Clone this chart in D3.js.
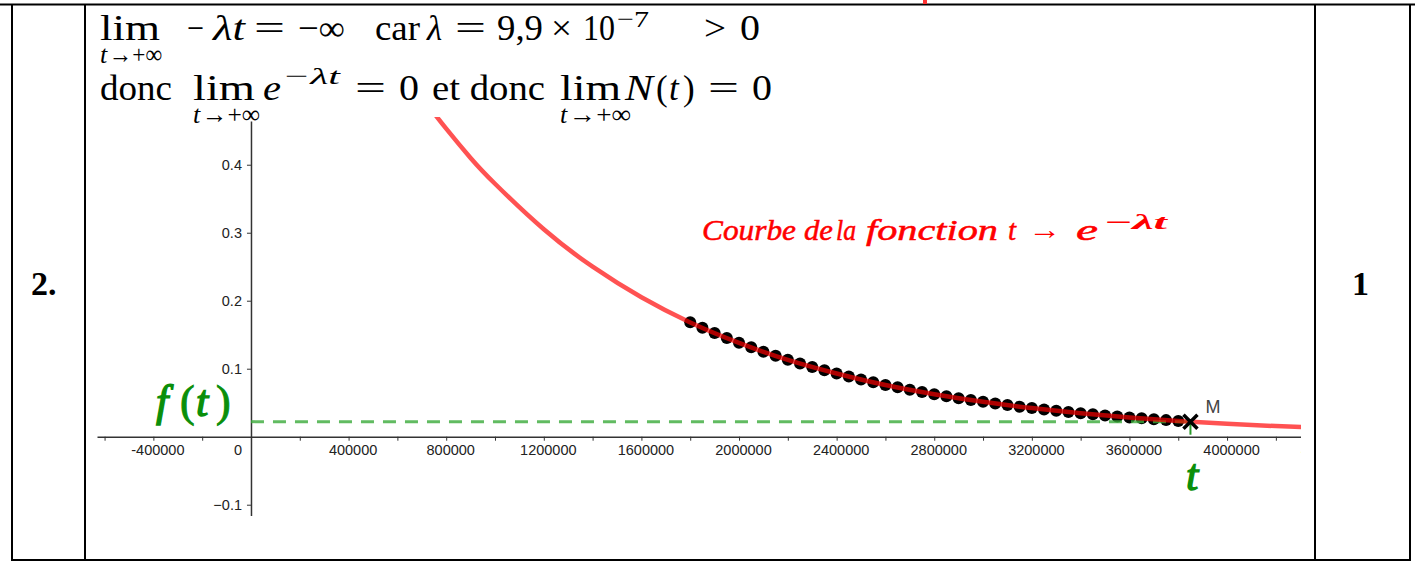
<!DOCTYPE html>
<html>
<head>
<meta charset="utf-8">
<script src="https://cdn.jsdelivr.net/npm/d3@7/dist/d3.min.js"></script>
<style>
  body { margin: 0; background: #fff; }
  svg { display: block; }
</style>
</head>
<body>
<script>
// axis ticks (minor every 200000, labels every 400000)
const xTickValues = [-600000, -400000, -200000, 200000, 400000, 600000, 800000, 1000000, 1200000,
  1400000, 1600000, 1800000, 2000000, 2200000, 2400000, 2600000, 2800000, 3000000, 3200000,
  3400000, 3600000, 3800000, 4000000, 4200000, 4400000];
const xLabelValues = [-400000, 400000, 800000, 1200000, 1600000, 2000000, 2400000, 2800000,
  3200000, 3600000, 4000000, 4400000];
const yTickValues = [-0.1, 0.1, 0.2, 0.3, 0.4];

// red curve, values
const curveT = [600000, 700000, 800000, 900000, 1000000, 1200000, 1400000, 1600000, 1800000,
  2000000, 2200000, 2400000, 2600000, 2800000, 3000000, 3200000, 3400000, 3600000, 3800000,
  4000000, 4200000, 4400000];
const curveY = [0.552, 0.500, 0.453, 0.410, 0.372, 0.305, 0.250, 0.205, 0.168,
  0.138, 0.113, 0.093, 0.076, 0.0625, 0.0513, 0.0421, 0.0345, 0.0283, 0.0232,
  0.0191, 0.0156, 0.0128];

// black points along the curve
const dotT = [1800000, 1850000, 1900000, 1950000, 2000000, 2050000, 2100000, 2150000, 2200000,
  2250000, 2300000, 2350000, 2400000, 2450000, 2500000, 2550000, 2600000, 2650000, 2700000,
  2750000, 2800000, 2850000, 2900000, 2950000, 3000000, 3050000, 3100000, 3150000, 3200000,
  3250000, 3300000, 3350000, 3400000, 3450000, 3500000, 3550000, 3600000, 3650000, 3700000,
  3750000, 3800000];
const dotY = [0.1683, 0.1602, 0.1524, 0.1451, 0.1381, 0.1314, 0.1251, 0.1190, 0.1133,
  0.1078, 0.1026, 0.0976, 0.0929, 0.0884, 0.0842, 0.0801, 0.0762, 0.0726, 0.0691,
  0.0657, 0.0625, 0.0595, 0.0567, 0.0539, 0.0513, 0.0488, 0.0465, 0.0442, 0.0421,
  0.0401, 0.0381, 0.0363, 0.0345, 0.0329, 0.0313, 0.0298, 0.0283, 0.0270, 0.0257,
  0.0244, 0.0232];

// point M
const mT = [3850000];
const mY = [0.0221];

const W = 1415, H = 562;
const SERIF = '"Liberation Serif", "DejaVu Serif", serif';
const SANS = '"Liberation Sans", Arial, sans-serif';

const svg = d3.select('body').append('svg')
  .attr('width', W)
  .attr('height', H);

// ---- table frame ----
const frame = svg.append('g').attr('stroke', '#000').attr('stroke-width', 2);
frame.append('line').attr('x1', 0).attr('x2', W).attr('y1', 4.5).attr('y2', 4.5);
frame.append('line').attr('x1', 12).attr('x2', 1410).attr('y1', 560).attr('y2', 560);
[12, 85, 1315, 1410].forEach(x => {
  frame.append('line').attr('x1', x).attr('x2', x).attr('y1', 4).attr('y2', 561);
});
// leftover bit of another picture peeking above the border
svg.append('rect').attr('x', 923).attr('y', 0).attr('width', 4).attr('height', 4).attr('fill', '#f33');

// ---- scales ----
const x = d3.scaleLinear().domain([-631000, 4303000]).range([97, 1301]);
const y = d3.scaleLinear().domain([-0.1166, 0.4643]).range([516, 121]);

svg.append('clipPath').attr('id', 'plot')
  .append('rect').attr('x', 97).attr('y', 117).attr('width', 1301 - 97).attr('height', 516 - 117);

const plot = svg.append('g').attr('clip-path', 'url(#plot)');

// ---- axes ----
const labelSet = new Set(xLabelValues);
const xAxis = plot.append('g')
  .attr('transform', `translate(0,${y(0)})`)
  .call(d3.axisBottom(x).tickValues(xTickValues).tickSize(4).tickSizeOuter(0)
    .tickFormat(d => labelSet.has(d) ? d3.format('d')(d).replace('−', '-') : ''));
xAxis.select('.domain').attr('stroke', '#333').attr('stroke-width', 1.5);
xAxis.selectAll('.tick line').attr('stroke', '#333');
xAxis.selectAll('.tick text')
  .attr('font-family', SANS).attr('font-size', 14.5).attr('fill', '#222')
  .attr('y', 8).attr('dx', 4).attr('dy', '0.71em');

// "0" sits left of the vertical axis
plot.append('text')
  .attr('x', x(0) - 9).attr('y', y(0) + 8).attr('dy', '0.71em')
  .attr('text-anchor', 'end')
  .attr('font-family', SANS).attr('font-size', 14.5).attr('fill', '#222')
  .text('0');

const yAxis = plot.append('g')
  .attr('transform', `translate(${x(0)},0)`)
  .call(d3.axisLeft(y).tickValues(yTickValues).tickSize(4).tickSizeOuter(0).tickPadding(5)
    .tickFormat(d3.format('.1f')));
yAxis.select('.domain').attr('stroke', '#333').attr('stroke-width', 1.5);
yAxis.selectAll('.tick line').attr('stroke', '#333');
yAxis.selectAll('.tick text')
  .attr('font-family', SANS).attr('font-size', 14.5).attr('fill', '#222');

// ---- points ----
const dots = dotT.map((t, i) => ({ t, v: dotY[i] }));
plot.append('g').selectAll('circle')
  .data(dots).enter().append('circle')
  .attr('cx', d => x(d.t))
  .attr('cy', d => y(d.v))
  .attr('r', 6)
  .attr('fill', '#000');

// ---- dashed level f(t) and the drop to the t axis ----
plot.append('line')
  .attr('x1', x(0)).attr('x2', x(mT[0]))
  .attr('y1', y(mY[0])).attr('y2', y(mY[0]))
  .attr('stroke', '#3aaa3a').attr('stroke-opacity', 0.8)
  .attr('stroke-width', 3).attr('stroke-dasharray', '13,9');
plot.append('line')
  .attr('x1', x(mT[0])).attr('x2', x(mT[0]))
  .attr('y1', y(mY[0])).attr('y2', y(0) - 2)
  .attr('stroke', '#2a9a2a').attr('stroke-width', 2);

// ---- red curve ----
const curve = curveT.map((t, i) => ({ t, v: curveY[i] }));
plot.append('path')
  .datum(curve)
  .attr('d', d3.line().x(d => x(d.t)).y(d => y(d.v)).curve(d3.curveNatural))
  .attr('fill', 'none')
  .attr('stroke', '#ff0000').attr('stroke-opacity', 0.68)
  .attr('stroke-width', 4.5);

// ---- point M ----
const mx = x(mT[0]), my = y(mY[0]);
plot.append('path')
  .attr('d', `M${mx - 7},${my - 7}L${mx + 7},${my + 7}M${mx - 7},${my + 7}L${mx + 7},${my - 7}`)
  .attr('stroke', '#000').attr('stroke-width', 3.5);
plot.append('text')
  .attr('x', mx + 15).attr('y', my - 9)
  .attr('font-family', SANS).attr('font-size', 18).attr('fill', '#444')
  .text('M');

// ---- labels in the chart ----
function put(g, px, py, str, opts = {}) {
  const t = g.append('text')
    .attr('x', px).attr('y', py)
    .attr('font-family', SERIF)
    .attr('font-size', opts.size || 35)
    .attr('fill', opts.fill || '#000')
    .attr('font-style', opts.italic ? 'italic' : 'normal')
    .attr('font-weight', opts.bold ? 'bold' : 'normal')
    .text(str);
  if (opts.len) t.attr('textLength', opts.len).attr('lengthAdjust', opts.adj || 'spacingAndGlyphs');
  if (opts.thick) t.attr('stroke', opts.fill).attr('stroke-width', opts.thick);
  return t;
}

const red = { fill: '#ff0000', italic: true, size: 29, thick: 0.5 };
const lbl = svg.append('g');
put(lbl, 702, 240, 'Courbe', { ...red, len: 94 });
put(lbl, 804, 240, 'de', { ...red, len: 29 });
put(lbl, 836, 240, 'la', { ...red, len: 20 });
put(lbl, 866, 240, 'fonction', { ...red, len: 132 });
put(lbl, 1008, 240, 't', red);
put(lbl, 1028, 239, '→', { fill: '#ff0000', size: 28, len: 33 });
put(lbl, 1076, 240, 'e', { ...red, len: 22 });
put(lbl, 1103, 229, '−λt', { fill: '#ff0000', italic: true, bold: true, size: 21, len: 64 });

const green = { fill: '#0a8f0a', italic: true, size: 44, thick: 1.4 };
put(lbl, 156, 416, 'f', green);
put(lbl, 180, 416, '(', { ...green, italic: false, thick: 1 });
put(lbl, 196, 416, 't', green);
put(lbl, 216, 416, ')', { ...green, italic: false, thick: 1 });
put(lbl, 1186, 490, 't', green);

// ---- row labels ----
put(svg, 31, 295, '2.', { bold: true, size: 34 });
put(svg, 1352, 295, '1', { bold: true, size: 34 });

// ---- math text above the chart ----
const m = svg.append('g');
const it = { italic: true };
const sub = { size: 26 };
// line 1
put(m, 100, 40, 'lim', { len: 60 });
put(m, 100, 63, 't', { ...sub, italic: true });
put(m, 109, 63, '→+∞', { ...sub, len: 53 });
put(m, 187, 40, '−', { len: 17 });
put(m, 213, 40, 'λt', { ...it, len: 32 });
put(m, 254, 40, '=', { len: 31 });
put(m, 298, 40, '−∞', { len: 47 });
put(m, 375, 40, 'car', { len: 45 });
put(m, 427, 40, 'λ', it);
put(m, 455, 40, '=', { len: 31 });
put(m, 497, 40, '9,9', { len: 46 });
put(m, 551, 40, '×', { len: 21 });
put(m, 583, 40, '10', { len: 32 });
put(m, 617, 27, '−7', { size: 24, len: 32 });
put(m, 704, 40, '>', { len: 22 });
put(m, 740, 40, '0', { len: 20 });
// line 2
put(m, 100, 100, 'donc', { len: 72 });
put(m, 193, 100, 'lim', { len: 62 });
put(m, 193, 123, 't', { ...sub, italic: true });
put(m, 202, 123, '→+∞', { ...sub, len: 58 });
put(m, 263, 100, 'e', { ...it, len: 18 });
put(m, 282, 84, '−λt', { size: 24, italic: true, len: 58 });
put(m, 355, 100, '=', { len: 31 });
put(m, 399, 100, '0', { len: 20 });
put(m, 432, 100, 'et donc', { len: 113 });
put(m, 560, 100, 'lim', { len: 61 });
put(m, 560, 123, 't', { ...sub, italic: true });
put(m, 569, 123, '→+∞', { ...sub, len: 62 });
put(m, 625, 100, 'N', { ...it, len: 28 });
put(m, 656, 100, '(');
put(m, 669, 100, 't', it);
put(m, 683, 100, ')');
put(m, 708, 100, '=', { len: 31 });
put(m, 752, 100, '0', { len: 20 });
</script>
</body>
</html>
